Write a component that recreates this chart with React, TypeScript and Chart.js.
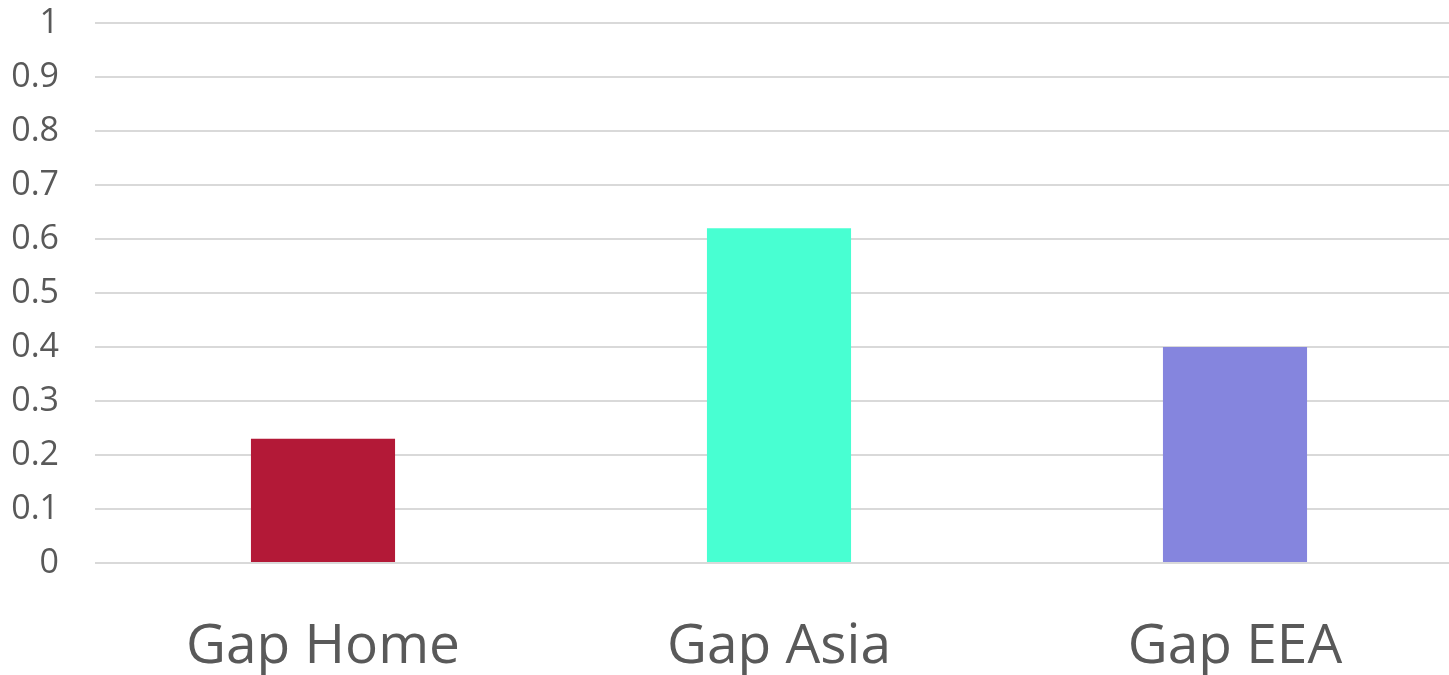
import React, { useEffect, useRef } from "react";
import { Chart, registerables } from "chart.js";

Chart.register(...registerables);

const categories = ["Gap Home", "Gap Asia", "Gap EEA"];
const values = [0.23, 0.62, 0.4];
const barColors = ["#B31937", "#48FFD2", "#8585DE"];
const yTicks = [0, 0.1, 0.2, 0.3, 0.4, 0.5, 0.6, 0.7, 0.8, 0.9, 1];

export default function App() {
  const ref = useRef<HTMLCanvasElement | null>(null);

  useEffect(() => {
    document.body.style.overflow = "hidden";
    document.documentElement.style.overflow = "hidden";
    const canvas = ref.current;
    if (!canvas) return;
    const chart = new Chart(canvas, {
      type: "bar",
      data: {
        labels: categories,
        datasets: [
          {
            data: values,
            backgroundColor: barColors,
            borderWidth: 0,
            barPercentage: 1,
            categoryPercentage: 0.316,
          },
        ],
      },
      options: {
        animation: false,
        responsive: false,
        layout: { padding: { left: 12, right: 2, top: 23, bottom: 0 } },
        plugins: {
          legend: { display: false },
          tooltip: { enabled: false },
        },
        scales: {
          x: {
            grid: { display: false },
            border: { display: false },
            afterFit: (axis: any) => {
              axis.height = 112;
              axis.paddingLeft = 0;
              axis.paddingRight = 0;
            },
            ticks: {
              color: "#595959",
              font: { family: "Open Sans", size: 55 },
              padding: 43,
            },
          },
          y: {
            min: 0,
            max: 1,
            afterBuildTicks: (axis: any) => {
              axis.ticks = yTicks.map((v) => ({ value: v }));
            },
            afterFit: (axis: any) => {
              axis.width = 83;
              axis.paddingTop = 0;
              axis.paddingBottom = 0;
            },
            grid: { color: "#D9D9D9", lineWidth: 2, drawTicks: false },
            border: { display: false },
            ticks: {
              color: "#595959",
              font: { family: "Open Sans", size: 34 },
              padding: 36,
              callback: (v: any) => String(Math.round(Number(v) * 10) / 10),
            },
          },
        },
      },
    });
    return () => chart.destroy();
  }, []);

  return (
    <div style={{ position: "fixed", left: 0, top: 0, width: 1465, height: 675, background: "#fff" }}>
      <canvas ref={ref} width={1465} height={675} style={{ width: 1465, height: 675 }} />
    </div>
  );
}
